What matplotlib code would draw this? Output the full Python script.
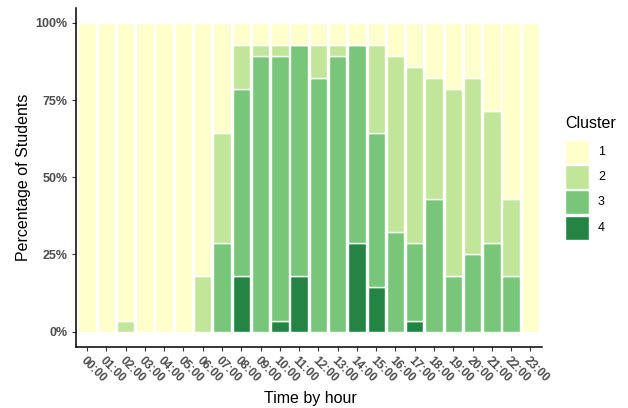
import numpy as np
import matplotlib
matplotlib.use("Agg")
import matplotlib.pyplot as plt
import matplotlib.transforms as mtransforms
from matplotlib.patches import Rectangle

plt.rcParams['font.family'] = ['Liberation Sans', 'DejaVu Sans']

hours = ["00:00", "01:00", "02:00", "03:00", "04:00", "05:00", "06:00", "07:00",
         "08:00", "09:00", "10:00", "11:00", "12:00", "13:00", "14:00", "15:00",
         "16:00", "17:00", "18:00", "19:00", "20:00", "21:00", "22:00", "23:00"]

# number of students per cluster for each hour
cluster1 = [28, 28, 27, 28, 28, 28, 23, 10, 2, 2, 2, 2, 2, 2, 2, 2, 3, 4, 5, 6, 5, 8, 16, 28]
cluster2 = [0, 0, 1, 0, 0, 0, 5, 10, 4, 1, 1, 0, 3, 1, 0, 8, 16, 16, 11, 17, 16, 12, 7, 0]
cluster3 = [0, 0, 0, 0, 0, 0, 0, 8, 17, 25, 24, 21, 23, 25, 18, 14, 9, 7, 12, 5, 7, 8, 5, 0]
cluster4 = [0, 0, 0, 0, 0, 0, 0, 0, 5, 0, 1, 5, 0, 0, 8, 4, 0, 1, 0, 0, 0, 0, 0, 0]

cluster_names = ["1", "2", "3", "4"]
colors = ["#FFFFCC", "#C2E699", "#78C679", "#238443"]

counts = np.array([cluster1, cluster2, cluster3, cluster4], dtype=float)
shares = counts / counts.sum(axis=0)

fig = plt.figure(figsize=(6.28, 4.08), dpi=100)
ax = fig.add_axes([75.5 / 628, 61 / 408, (542 - 75.5) / 628, (347 - 7.5) / 408])

x = np.arange(len(hours))
bottom = np.zeros(len(hours))
# stack from darkest (cluster 4) at the bottom up to cluster 1
for i in [3, 2, 1, 0]:
    ax.bar(x, shares[i], width=0.9, bottom=bottom, color=colors[i],
           edgecolor="white", linewidth=1.0)
    bottom += shares[i]

ax.set_xlim(-0.6, len(hours) - 0.4)
ax.set_ylim(-0.05, 1.05)
ax.set_yticks([0, 0.25, 0.5, 0.75, 1.0])
ax.set_yticklabels(["0%", "25%", "50%", "75%", "100%"], fontweight="bold",
                   color="#4D4D4D", fontsize=9)
ax.set_xticks(x)
ax.set_xticklabels(hours, rotation=-45, ha="left", va="top",
                   rotation_mode="anchor", fontweight="bold",
                   color="#4D4D4D", fontsize=8.5)
shift = mtransforms.ScaledTranslation(-4 / 100, -4 / 100, fig.dpi_scale_trans)
for lab in ax.get_xticklabels():
    lab.set_transform(lab.get_transform() + shift)

for side in ["top", "right"]:
    ax.spines[side].set_visible(False)
for side in ["left", "bottom"]:
    ax.spines[side].set_linewidth(1.1)
    ax.spines[side].set_color("black")
ax.tick_params(axis="both", length=3, width=0.8, color="#333333", pad=2.5)

ax.set_ylabel("Percentage of Students", fontsize=11.5, labelpad=3.5)
fig.text(310 / 628, 1 - 398 / 408, "Time by hour", fontsize=11.5,
         ha="center", va="center")

# legend
fig.text(565 / 628, 1 - 124 / 408, "Cluster", fontsize=11.5, va="center", ha="left")
for k, (name, col) in enumerate(zip(cluster_names, colors)):
    top = 140 + k * 25.2
    fig.add_artist(Rectangle((565 / 628, 1 - (top + 24) / 408), 24 / 628, 24 / 408,
                             transform=fig.transFigure, facecolor=col,
                             edgecolor="white", linewidth=1.0))
    fig.text(598 / 628, 1 - (top + 12) / 408, name, fontsize=9,
             va="center", ha="left")

fig.savefig("out.png", dpi=100)
